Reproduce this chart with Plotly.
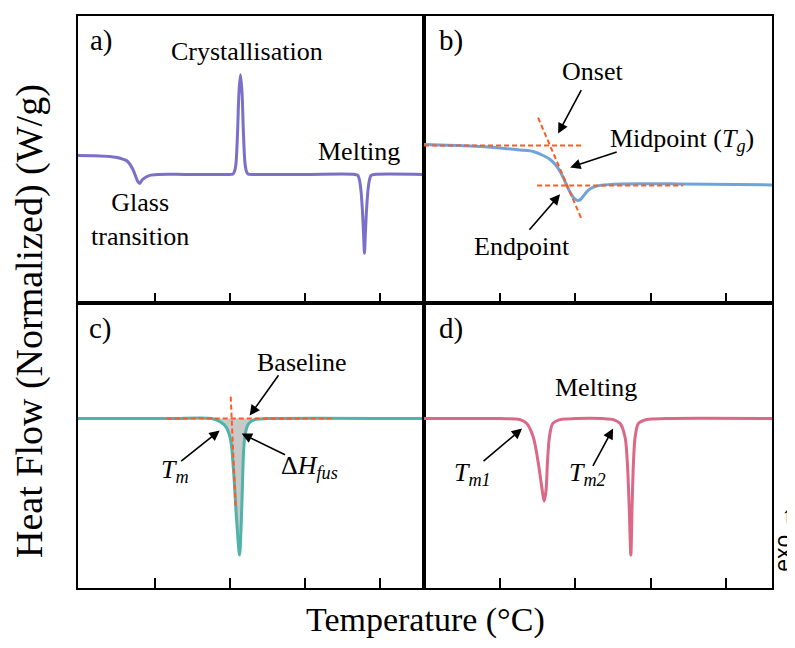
import plotly.graph_objects as go
from plotly.subplots import make_subplots

# ---------------- data ----------------
# a) full DSC scan: glass transition, crystallisation, melting
a_temp = [-1, 10, 20, 27, 32, 35.5, 38.7, 40, 42, 46.7, 53, 70, 100, 102, 103, 104, 105,
          106, 107, 108, 109, 110, 111, 112, 114, 150, 183, 185, 186, 187, 188, 188.8,
          189.4, 190, 190.8, 191.8, 192.8, 193.8, 196, 229]
a_flow = [0.4, 0.38, 0.3, 0.12, -0.2, -1.0, -2.2, -2.4, -2.0, -1.6, -1.5, -1.5, -1.5, -1.45,
          -1.2, -0.4, 2.5, 6.8, 8.5, 6.8, 2.5, -0.4, -1.2, -1.45, -1.5, -1.5, -1.5, -1.6,
          -2.0, -3.0, -5.0, -7.5, -9.4, -7.5, -5.0, -3.0, -2.0, -1.6, -1.5, -1.5]

# b) glass transition detail
b_temp = [-0.5, 30.1, 50, 63.3, 71.9, 78.6, 83.2, 87.2, 89.8, 92.5, 94.5, 96.5, 98.5,
          101.1, 103.1, 105.1, 108.4, 112.4, 116.4, 129.7, 169.5, 230.5]
b_flow = [1.5, 1.35, 1.15, 0.95, 0.8, 0.4, 0.0, -0.6, -1.2, -2.0, -2.7, -3.3, -3.8,
          -4.1, -4.05, -3.7, -3.1, -2.75, -2.6, -2.45, -2.45, -2.55]
b_onset_temp = [-0.5, 105.1]
b_onset_flow = [1.4, 1.4]
b_tangent_temp = [75.2, 104.4]
b_tangent_flow = [4.2, -6.1]
b_end_temp = [74.6, 171.5]
b_end_flow = [-2.6, -2.6]

# c) single melting peak
c_temp = [-1, 60, 88, 94.3, 97.6, 100.5, 102.5, 104.3, 106.4, 107.5, 108.2, 109.1,
          110.2, 112.4, 116.4, 125, 229]
c_flow = [2.7, 2.7, 2.7, 2.3, 1.8, 0.5, -2.8, -7.2, -11.0, -7.8, -4.5, -0.5,
          1.2, 2.2, 2.6, 2.7, 2.7]
c_baseline_temp = [58.0, 167.5]
c_baseline_flow = [2.7, 2.7]
c_tangent_temp = [100.5, 103.8]
c_tangent_flow = [4.9, -6.2]
c_area_range = [88, 125]

# d) double melting peak
d_temp = [-0.5, 50, 63.3, 67.7, 72.1, 75.4, 77.7, 79.2, 80.5, 81.4, 82.7, 84.9, 89.8,
          100, 118, 125.2, 129.7, 133.0, 134.5, 135.7, 136.8, 137.6, 138.5, 139.6,
          141.8, 147.4, 160, 230.5]
d_flow = [2.7, 2.7, 2.6, 2.2, 0.8, -1.8, -4.2, -5.6, -4.5, -1.8, 0.8, 2.2, 2.6,
          2.7, 2.7, 2.6, 2.2, 0.8, -1.8, -6.2, -11.0, -6.2, -1.8, 0.8, 2.2, 2.6, 2.7, 2.7]

tick_values = [50, 100, 150, 200]
panel_labels = ["a)", "b)", "c)", "d)"]

# ---------------- styling ----------------
PURPLE = "#7B70C8"
BLUE = "#6EA5D8"
TEAL = "#4FB3A9"
PINK = "#DB6884"
ORANGE = "#FF5A22"
GREY = "#C9C9C9"
SERIF = "Liberation Serif"
LW = 3

fig = make_subplots(rows=2, cols=2, horizontal_spacing=0, vertical_spacing=0)

def curve(x, y, color, row, col):
    fig.add_trace(go.Scatter(x=x, y=y, mode="lines",
                             line=dict(color=color, width=LW, shape="spline", smoothing=0.8),
                             hoverinfo="skip", showlegend=False), row=row, col=col)

def dashed(x, y, row, col):
    fig.add_trace(go.Scatter(x=x, y=y, mode="lines",
                             line=dict(color=ORANGE, width=2, dash="5px,3px"),
                             hoverinfo="skip", showlegend=False), row=row, col=col)

# a
curve(a_temp, a_flow, PURPLE, 1, 1)
# b
curve(b_temp, b_flow, BLUE, 1, 2)
dashed(b_onset_temp, b_onset_flow, 1, 2)
dashed(b_tangent_temp, b_tangent_flow, 1, 2)
dashed(b_end_temp, b_end_flow, 1, 2)
# c
area_t = [t for t in c_temp if c_area_range[0] <= t <= c_area_range[1]]
area_f = [f for t, f in zip(c_temp, c_flow) if c_area_range[0] <= t <= c_area_range[1]]
fig.add_trace(go.Scatter(x=area_t, y=area_f, mode="lines", fill="toself", fillcolor=GREY,
                         line=dict(width=0, shape="spline", smoothing=0.8),
                         hoverinfo="skip", showlegend=False), row=2, col=1)
curve(c_temp, c_flow, TEAL, 2, 1)
dashed(c_baseline_temp, c_baseline_flow, 2, 1)
dashed(c_tangent_temp, c_tangent_flow, 2, 1)
# d
curve(d_temp, d_flow, PINK, 2, 2)

# ---------------- axes ----------------
x_dom = [[0, 0.4986], [0.4986, 1]]
y_dom = [[0.4983, 1], [0, 0.4983]]
x_rng = [[-1, 229], [-0.5, 230.5]]
y_rng = [[-14.4, 14.4], [-14.3, 14.3]]
for r in range(2):
    for c in range(2):
        idx = r * 2 + c + 1
        xname = "xaxis" if idx == 1 else f"xaxis{idx}"
        yname = "yaxis" if idx == 1 else f"yaxis{idx}"
        fig.layout[xname].update(domain=x_dom[c], range=x_rng[c], tickvals=tick_values,
                                 ticks="inside", ticklen=10, tickwidth=1.5, tickcolor="black",
                                 showticklabels=False, showgrid=False, zeroline=False,
                                 showline=True, linecolor="black", linewidth=2, mirror=True)
        fig.layout[yname].update(domain=y_dom[r], range=y_rng[r], showticklabels=False,
                                 ticks="", showgrid=False, zeroline=False,
                                 showline=True, linecolor="black", linewidth=2, mirror=True)

# ---------------- annotations ----------------
ann = []
def text(xref, yref, x, y, s, size=26, xanchor="center"):
    ann.append(dict(xref=xref, yref=yref, x=x, y=y, text=s, showarrow=False,
                    xanchor=xanchor, yanchor="middle",
                    font=dict(family=SERIF, size=size, color="black")))

def arrow(xref, yref, hx, hy, tx, ty):
    ann.append(dict(xref=xref, yref=yref, axref=xref, ayref=yref, x=hx, y=hy, ax=tx, ay=ty,
                    text="", showarrow=True, arrowhead=2, arrowsize=1.3, arrowwidth=1.6,
                    arrowcolor="black", standoff=0, startstandoff=0))

# panel labels
label_pos = [("x", "y", 5.5, 11.9), ("x2", "y2", 8.2, 11.9),
             ("x3", "y3", 4.8, 11.7), ("x4", "y4", 8.2, 11.7)]
for (xr, yr, lx, ly), lab in zip(label_pos, panel_labels):
    text(xr, yr, lx, ly, lab, size=29, xanchor="left")

# a
text("x", "y", 111.1, 10.8, "Crystallisation")
text("x", "y", 186.1, 0.8, "Melting")
text("x", "y", 40, -6.0, "Glass<br>transition")
# b
text("x2", "y2", 111.1, 8.8, "Onset")
arrow("x2", "y2", 88.5, 2.6, 104.4, 7.1)
text("x2", "y2", 170.8, 2.0, "Midpoint (<i>T</i><sub><i>g</i></sub>)")
arrow("x2", "y2", 96.5, -0.8, 128.4, 0.8)
text("x2", "y2", 64.6, -8.7, "Endpoint")
arrow("x2", "y2", 89.8, -3.5, 68.6, -7.2)
# c
text("x3", "y3", 147.6, 8.3, "Baseline")
arrow("x3", "y3", 113.1, 3.0, 133.0, 7.2)
text("x3", "y3", 63.3, -2.6, "<i>T</i><sub><i>m</i></sub>")
arrow("x3", "y3", 93.2, 1.5, 66.6, -1.7)
text("x3", "y3", 152.9, -2.2, "Δ<i>H</i><sub><i>fus</i></sub>")
arrow("x3", "y3", 107.8, 1.2, 137.6, -1.0)
# d
text("x4", "y4", 113.7, 5.8, "Melting")
text("x4", "y4", 31.4, -2.9, "<i>T</i><sub><i>m1</i></sub>")
arrow("x4", "y4", 64.6, 1.7, 38.0, -1.7)
text("x4", "y4", 107.8, -2.9, "<i>T</i><sub><i>m2</i></sub>")
arrow("x4", "y4", 125.0, 1.7, 111.1, -2.2)

# axis titles
ann.append(dict(xref="paper", yref="paper", x=0.5, y=-0.056, text="Temperature (°C)",
                showarrow=False, xanchor="center", yanchor="middle",
                font=dict(family=SERIF, size=34, color="black")))
ann.append(dict(xref="paper", yref="paper", x=-0.069, y=0.467,
                text="Heat Flow (Normalized) (W/g)", textangle=-90,
                showarrow=False, xanchor="center", yanchor="middle",
                font=dict(family=SERIF, size=38, color="black")))
ann.append(dict(xref="paper", yref="paper", x=1.0165, y=0.087, text="exo →", textangle=-90,
                showarrow=False, xanchor="center", yanchor="middle",
                font=dict(family="Liberation Sans", size=23, color="black")))

# page body has an 8px margin, so the figure is 8px smaller than the window
fig.update_layout(width=787, height=640, margin=dict(l=70, r=23, t=6, b=60),
                  paper_bgcolor="white", plot_bgcolor="white", annotations=ann,
                  showlegend=False)

fig.write_html("out.html")
